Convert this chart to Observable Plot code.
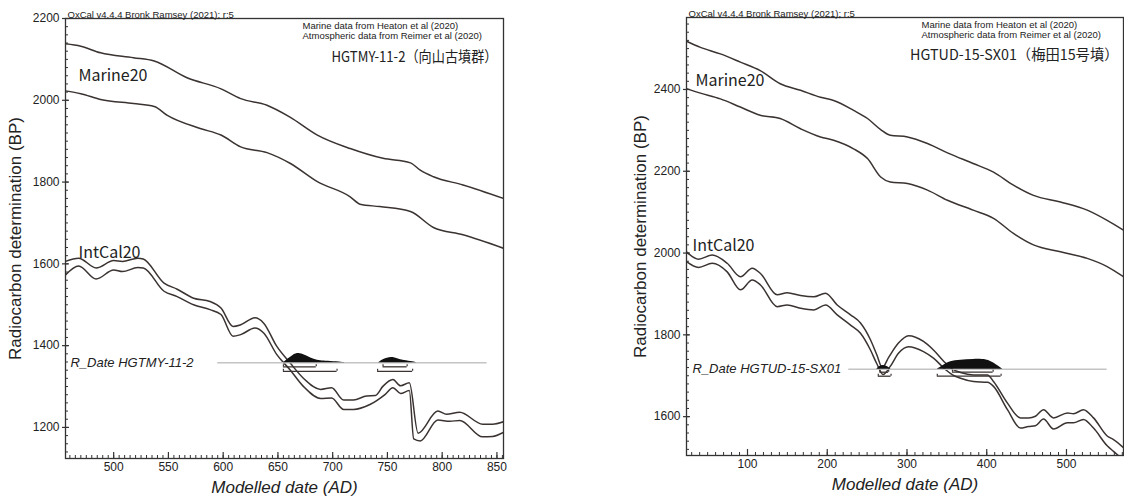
<!DOCTYPE html>
<html><head><meta charset="utf-8">
<script src="https://cdn.jsdelivr.net/npm/d3@7"></script>
<script src="https://cdn.jsdelivr.net/npm/@observablehq/plot@0.6"></script>
<style>
body{margin:0;background:#fff;}
#wrap{display:flex;width:1124px;height:497px;overflow:hidden;}
svg{display:block;flex:none;}
</style></head><body><div id="wrap"></div>
<script>
// ---------- Left panel data (HGTMY-11-2) ----------
const leftTitle = "HGTMY-11-2（向山古墳群）";
const leftRLabel = "R_Date HGTMY-11-2";
const leftXDomain = [456, 856];
const leftYDomain = [1124, 2200];
const leftXTicks = [500, 550, 600, 650, 700, 750, 800, 850];
const leftYTicks = [1200, 1400, 1600, 1800, 2000, 2200];
const leftMarineUpper = [[456,2138],[470,2132],[488,2116],[518,2104],[537,2096],[567,2055],[598,2028],[616,2004],[640,1988],[661,1959],[686,1915],[716,1882],[746,1858],[771,1847],[780,1829],[792,1813],[819,1793],[856,1760]];
const leftMarineLower = [[456,2023],[470,2016],[488,2002],[518,1992],[537,1985],[549,1963],[579,1931],[598,1915],[616,1886],[640,1872],[661,1846],[686,1801],[716,1764],[725,1746],[743,1740],[771,1728],[792,1689],[819,1671],[856,1638]];
const leftIntcalUpper = [[456,1606],[468,1614],[484,1590],[500,1608],[508,1606],[522,1614],[527,1612],[546,1553],[558,1538],[573,1516],[588,1508],[598,1492],[609,1447],[616,1451],[629,1468],[637,1455],[649,1398],[661,1358],[673,1321],[689,1293],[699,1297],[710,1267],[719,1267],[731,1277],[739,1278],[746,1301],[755,1317],[762,1302],[770,1309],[778,1186],[796,1240],[804,1232],[816,1237],[837,1208],[846,1208],[856,1214]];
const leftIntcalLower = [[456,1573],[468,1595],[484,1563],[500,1585],[508,1581],[522,1591],[527,1590],[546,1533],[558,1520],[573,1500],[588,1488],[598,1476],[609,1423],[616,1427],[629,1443],[637,1431],[649,1378],[661,1341],[673,1301],[689,1271],[699,1272],[710,1244],[719,1244],[734,1256],[748,1281],[755,1297],[762,1283],[770,1290],[774,1172],[780,1167],[796,1218],[807,1215],[816,1217],[837,1177],[846,1178],[856,1188]];
const leftRDate = 1358;
const leftRSpan = [595, 841];
const leftDists = [
  [[655,0],[664,0.83],[670,1],[677,0.67],[683,0.33],[689,0.2],[695,0.17],[707,0.07],[712,0]],
  [[742,0],[746,0.33],[754,0.6],[759,0.4],[765,0.23],[774,0.1],[777,0]]
];
const leftRanges68 = [[655,685],[746,768]];
const leftRanges95 = [[655,704],[741,773]];

// ---------- Right panel data (HGTUD-15-SX01) ----------
const rightTitle = "HGTUD-15-SX01（梅田15号墳）";
const rightRLabel = "R_Date HGTUD-15-SX01";
const rightXDomain = [23.5, 571.5];
const rightYDomain = [1505, 2576];
const rightXTicks = [100, 200, 300, 400, 500];
const rightYTicks = [1600, 1800, 2000, 2200, 2400];
const rightMarineUpper = [[23.5,2518],[41,2503],[66,2487],[91,2467],[116,2446],[141,2414],[166.5,2398],[191.5,2381],[208,2373],[233,2349],[250.5,2329],[267,2302],[279,2288],[300.6,2284],[325.7,2268],[350.8,2245],[383,2219],[408.5,2198],[433.5,2166],[458.6,2141],[492.5,2125],[526,2105],[551,2080],[571.5,2056]];
const rightMarineLower = [[23.5,2402],[41,2391],[66,2377],[91,2357],[116,2337],[141,2329],[166.5,2304],[191.5,2284],[208,2276],[233,2255],[250.5,2231],[267,2186],[279,2174],[300.6,2170],[325.7,2154],[350.8,2129],[383,2105],[408.5,2085],[433.5,2048],[458.6,2020],[492.5,2003],[526,1987],[551,1967],[571.5,1942]];
const rightIntcalUpper = [[23.5,2003],[38.6,1985],[55.7,1995],[74.5,1975],[91.2,1942],[105.9,1963],[116.3,1950],[137.2,1898],[149.8,1903],[166.5,1896],[183.1,1893],[197.8,1902],[212.5,1873],[229.2,1849],[241.7,1829],[254.2,1788],[262,1752],[269,1720],[277,1745],[289.3,1780],[301.9,1798],[320.7,1784],[333.2,1763],[348.3,1731],[357.1,1716],[367.1,1708],[383.4,1702],[400.9,1702],[408.5,1686],[426,1633],[442.3,1597],[452.4,1597],[461.1,1601],[471.2,1617],[483.7,1597],[501.3,1609],[508.8,1607],[521.3,1617],[533.9,1597],[551.4,1552],[559,1544],[571.5,1524]];
const rightIntcalLower = [[23.5,1979],[38.6,1965],[55.7,1975],[74.5,1954],[91.2,1910],[105.9,1934],[116.3,1922],[137.2,1869],[149.8,1873],[166.5,1865],[183.1,1861],[197.8,1873],[212.5,1849],[229.2,1824],[241.7,1804],[254.2,1763],[262,1730],[270,1703],[279,1723],[289.3,1755],[301.9,1771],[320.7,1759],[333.2,1743],[348.3,1715],[357.1,1702],[367.1,1694],[383.4,1686],[400.9,1684],[408.5,1674],[426,1617],[442.3,1572],[452.4,1576],[461.1,1578],[471.2,1594],[483.7,1570],[501.3,1585],[508.8,1585],[521.3,1593],[533.9,1572],[551.4,1528],[559,1515],[571.5,1494]];
const rightRDate = 1716;
const rightRSpan = [227, 551];
const rightDists = [
  [[262,0],[266,0.3],[270,0.4],[275,0.3],[280,0]],
  [[338,0],[346,0.4],[354,0.8],[367,0.9],[383,1],[401,1],[409,0.6],[415,0.3],[420,0]]
];
const rightRanges68 = [[266,277],[357,408]];
const rightRanges95 = [[264,280],[338,418]];

const oxcalText = "OxCal v4.4.4 Bronk Ramsey (2021); r:5";
const sourceText = "Marine data from Heaton et al (2020)\nAtmospheric data from Reimer et al (2020)";
const yLabel = "Radiocarbon determination (BP)";
const xLabel = "Modelled date (AD)";

// ---------- drawing ----------
const ink = "#3a3331";
const axisInk = "#333";
const sans = "Liberation Sans, Arial, sans-serif";
const cjk = "Noto Sans CJK JP, sans-serif";

function panel(c) {
  const [x0, x1] = c.xDomain, [y0, y1] = c.yDomain;
  const xMinor = d3.range(Math.ceil(x0 / c.xMinorStep) * c.xMinorStep, x1 + 0.001, c.xMinorStep);
  const yMinor = d3.range(Math.ceil(y0 / 20) * 20, y1 + 0.001, 20);
  const probScale = 24.4;
  const curve = (d) => Plot.line(d, {x: p => p[0], y: p => p[1], stroke: ink, strokeWidth: 1.5, curve: "monotone-x", clip: true});
  const marks = [
    curve(c.marineUpper), curve(c.marineLower), curve(c.intcalUpper), curve(c.intcalLower),
    Plot.ruleY([c.rDate], {x1: c.rSpan[0], x2: c.rSpan[1], stroke: "#c4c4c4", strokeWidth: 1.6}),
    ...c.dists.map(d => Plot.area(d, {x1: p => p[0], y1: c.rDate, y2: p => c.rDate + p[1] * probScale, fill: "#111", curve: "basis"})),
    Plot.ruleY(c.ranges68, {x1: r => r[0], x2: r => r[1], y: c.rDate, dy: c.dy68, stroke: ink, strokeWidth: 1.3}),
    Plot.ruleY(c.ranges95, {x1: r => r[0], x2: r => r[1], y: c.rDate, dy: c.dy95, stroke: ink, strokeWidth: 1.3}),
    Plot.ruleX(c.ranges68.flat(), {x: d => d, y1: c.rDate, y2: c.rDate, dy: c.dy68, insetTop: -2, stroke: ink, strokeWidth: 1.2}),
    Plot.ruleX(c.ranges95.flat(), {x: d => d, y1: c.rDate, y2: c.rDate, dy: c.dy95, insetTop: -2, stroke: ink, strokeWidth: 1.2}),
    Plot.text([c.rLabel], {frameAnchor: "left", y: c.rDate, dx: c.rLabelDx, textAnchor: "start", fontSize: 13, fontStyle: "italic", fontFamily: sans, fill: "#222"}),
    // frame & ticks
    Plot.frame({stroke: axisInk, strokeWidth: 1.3}),
    Plot.ruleY(yMinor, {x1: x0, x2: x0, insetRight: -3, stroke: axisInk}),
    Plot.ruleY(c.yTicks, {x1: x0, x2: x0, insetRight: -4, insetLeft: -3, stroke: axisInk, strokeWidth: 1.2}),
    Plot.ruleX(xMinor, {y1: y0, y2: y0, insetTop: -3, stroke: axisInk}),
    Plot.ruleX(c.xTicks, {y1: y0, y2: y0, insetTop: -6, stroke: axisInk, strokeWidth: 1.2}),
    Plot.axisY(c.yTicks, {tickSize: 0, tickPadding: 6, fontSize: 12, label: null, tickFormat: d => String(d), color: "#222", fontFamily: sans}),
    Plot.axisX(c.xTicks, {tickSize: 0, tickPadding: 4, fontSize: 12, label: null, tickFormat: d => String(d), color: "#222", fontFamily: sans}),
    Plot.text([yLabel], {frameAnchor: "left", dx: c.yLabelDx, rotate: -90, textAnchor: "middle", lineAnchor: "middle", fontSize: 17, fontFamily: sans, fill: "#222"}),
    Plot.text([xLabel], {frameAnchor: "bottom", dy: 29, lineAnchor: "middle", textAnchor: "middle", fontSize: 17, fontStyle: "italic", fontFamily: sans, fill: "#222"}),
    // annotations
    Plot.text([oxcalText], {frameAnchor: "top-left", dx: 2, dy: -1, lineAnchor: "bottom", textAnchor: "start", fontSize: 9.5, fontFamily: sans, fill: "#222"}),
    Plot.text([sourceText], {frameAnchor: "top-right", dx: c.sourceDx, dy: 3, lineAnchor: "top", textAnchor: "start", fontSize: 9.5, lineHeight: 1.05, fontFamily: sans, fill: "#222"}),
    Plot.text([c.title], {frameAnchor: "top-right", dx: c.titleDx, dy: c.titleDy, textAnchor: "end", lineAnchor: "middle", fontSize: c.titleSize, fontFamily: cjk, fill: "#222"}),
    Plot.text(["Marine20"], {frameAnchor: "top-left", dx: c.marineDx, dy: c.marineDy, textAnchor: "start", lineAnchor: "middle", fontSize: 16, fontFamily: cjk, fill: "#222"}),
    Plot.text(["IntCal20"], {frameAnchor: "top-left", dx: c.intcalDx, dy: c.intcalDy, textAnchor: "start", lineAnchor: "middle", fontSize: 16, fontFamily: cjk, fill: "#222"})
  ];
  const svg = Plot.plot({
    width: c.width, height: 497,
    marginLeft: c.marginLeft, marginRight: c.marginRight, marginTop: c.marginTop, marginBottom: c.marginBottom,
    x: {domain: c.xDomain},
    y: {domain: c.yDomain},
    style: {fontFamily: sans, background: "white", overflow: "visible"},
    marks
  });
  if (c.titleWidth) {
    d3.select(svg).selectAll("text")
      .filter(function () { return this.textContent === c.title; })
      .attr("textLength", c.titleWidth)
      .attr("lengthAdjust", "spacingAndGlyphs");
  }
  return svg;
}

const wrap = document.getElementById("wrap");
wrap.append(panel({
  width: 560, marginLeft: 65, marginRight: 57, marginTop: 18, marginBottom: 39,
  xDomain: leftXDomain, yDomain: leftYDomain, xTicks: leftXTicks, yTicks: leftYTicks, xMinorStep: 5,
  marineUpper: leftMarineUpper, marineLower: leftMarineLower, intcalUpper: leftIntcalUpper, intcalLower: leftIntcalLower,
  rDate: leftRDate, rSpan: leftRSpan, dists: leftDists, ranges68: leftRanges68, ranges95: leftRanges95,
  dy68: 4, dy95: 8.5, rLabel: leftRLabel, rLabelDx: 5, yLabelDx: -50,
  title: leftTitle, titleDx: -6, titleDy: 39, titleSize: 15, titleWidth: 166, sourceDx: -201,
  marineDx: 13, marineDy: 57, intcalDx: 13, intcalDy: 234
}));
wrap.append(panel({
  width: 564, marginLeft: 126, marginRight: 1, marginTop: 17, marginBottom: 42,
  xDomain: rightXDomain, yDomain: rightYDomain, xTicks: rightXTicks, yTicks: rightYTicks, xMinorStep: 10,
  marineUpper: rightMarineUpper, marineLower: rightMarineLower, intcalUpper: rightIntcalUpper, intcalLower: rightIntcalLower,
  rDate: rightRDate, rSpan: rightRSpan, dists: rightDists, ranges68: rightRanges68, ranges95: rightRanges95,
  dy68: 3, dy95: 7, rLabel: rightRLabel, rLabelDx: 6, yLabelDx: -46,
  title: rightTitle, titleDx: -5, titleDy: 38, titleSize: 14.3, titleWidth: null, sourceDx: -202,
  marineDx: 9, marineDy: 63, intcalDx: 6, intcalDy: 228
}));
</script></body></html>
